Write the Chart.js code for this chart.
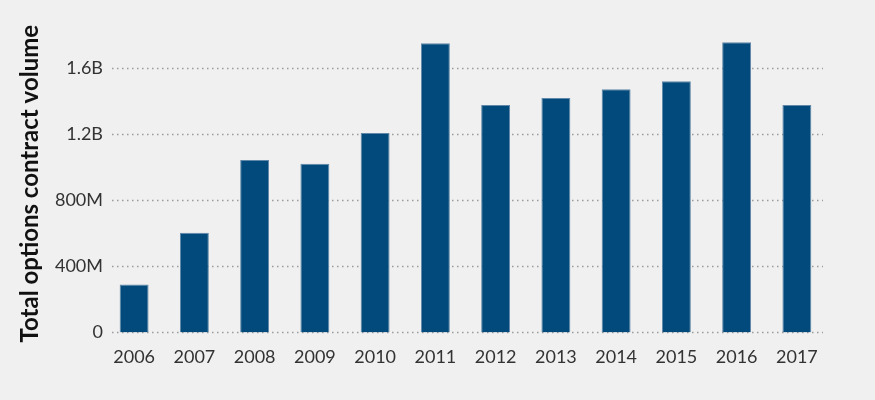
<!DOCTYPE html>
<html>
<head>
<meta charset="utf-8">
<script src="https://cdn.jsdelivr.net/npm/chart.js@4"></script>
<style>
  html, body { margin: 0; padding: 0; background: #f0f0f0; }
  #wrap { width: 875px; height: 400px; }
</style>
</head>
<body>
<div id="wrap"><canvas id="myChart" width="875" height="400"></canvas></div>
<script>
// Chart data
const years = ['2006', '2007', '2008', '2009', '2010', '2011', '2012', '2013', '2014', '2015', '2016', '2017'];
const volumes = [290e6, 603e6, 1044e6, 1020e6, 1207e6, 1750e6, 1376e6, 1418e6, 1472e6, 1520e6, 1756e6, 1376e6];
const yTicks = [0, 400e6, 800e6, 1200e6, 1600e6];

function formatVolume(v) {
    if (v === 0) return '0';
    if (v >= 1e9) return (v / 1e9).toFixed(1) + 'B';
    return Math.round(v / 1e6) + 'M';
}

// dotted gridlines drawn a bit inside the chart area, like the original
const dottedGrid = {
    id: 'dottedGrid',
    beforeDatasetsDraw(chart) {
        const ctx = chart.ctx;
        const y = chart.scales.y;
        const area = chart.chartArea;
        ctx.save();
        ctx.strokeStyle = '#9a9a9a';
        ctx.lineWidth = 1.5;
        ctx.setLineDash([1.5, 3.5]);
        yTicks.forEach(t => {
            const py = Math.round(y.getPixelForValue(t)) + 0.5;
            ctx.beginPath();
            ctx.moveTo(area.left + 8, py);
            ctx.lineTo(area.right - 4, py);
            ctx.stroke();
        });
        ctx.restore();
    }
};

const ctx = document.getElementById('myChart').getContext('2d');
const myChart = new Chart(ctx, {
    type: 'bar',
    data: {
        labels: years,
        datasets: [{
            label: 'Total options contract volume',
            data: volumes,
            backgroundColor: '#024a7b',
            borderColor: '#5f87a8',
            borderWidth: 1,
            categoryPercentage: 1,
            barPercentage: 0.48
        }]
    },
    options: {
        responsive: false,
        animation: false,
        layout: { padding: { top: 35, right: 48, bottom: 18, left: 16 } },
        plugins: {
            legend: { display: false },
            tooltip: { enabled: false }
        },
        scales: {
            x: {
                grid: { display: false, drawTicks: false },
                border: { display: false },
                ticks: {
                    color: '#333',
                    font: { family: 'Lato', size: 18 },
                    padding: 14
                }
            },
            y: {
                min: 0,
                max: 1800e6,
                afterBuildTicks(scale) {
                    scale.ticks = yTicks.map(v => ({ value: v }));
                },
                grid: { display: false, drawTicks: false },
                border: { display: false },
                ticks: {
                    color: '#333',
                    font: { family: 'Lato', size: 18 },
                    padding: 1,
                    callback: v => formatVolume(v)
                },
                title: {
                    display: true,
                    text: 'Total options contract volume',
                    color: '#111',
                    font: { family: 'Lato', size: 24, weight: 'bold' },
                    padding: { top: 0, bottom: 10 }
                },
                afterFit(scale) {
                    scale.width = 88;
                }
            }
        }
    },
    plugins: [dottedGrid]
});
</script>
</body>
</html>
